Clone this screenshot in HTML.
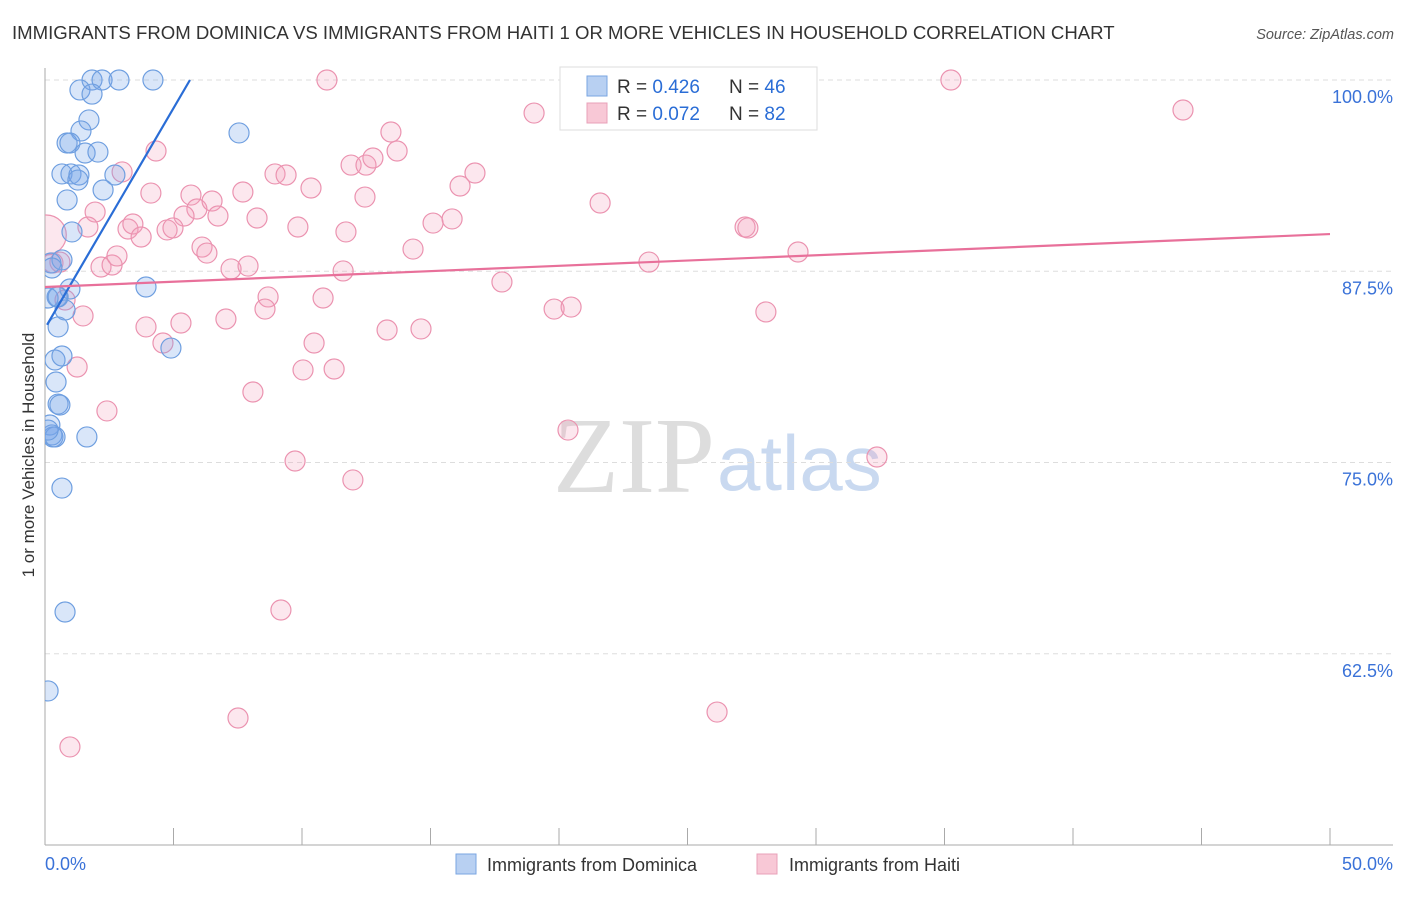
<!DOCTYPE html>
<html><head><meta charset="utf-8"><style>
body{margin:0;background:#fff;font-family:"Liberation Sans",sans-serif;}
</style></head><body>
<svg id="chart" width="1406" height="892" xmlns="http://www.w3.org/2000/svg" font-family="Liberation Sans, sans-serif">
<defs><clipPath id="plotclip"><rect x="45" y="40" width="1360" height="805"/></clipPath></defs>
<text x="12" y="39" font-size="18.6" fill="#333">IMMIGRANTS FROM DOMINICA VS IMMIGRANTS FROM HAITI 1 OR MORE VEHICLES IN HOUSEHOLD CORRELATION CHART</text>
<text x="1394" y="39" font-size="14.5" fill="#555" font-style="italic" text-anchor="end">Source: ZipAtlas.com</text>
<text x="553" y="492" font-size="108" font-family="Liberation Serif, serif" fill="#ddd">ZIP</text>
<text x="717" y="490" font-size="78" fill="#c9d9f0">atlas</text>
<text transform="translate(34,455) rotate(-90)" font-size="17" fill="#333" text-anchor="middle">1 or more Vehicles in Household</text>
<g id="grid"></g><g id="axes"></g><g id="marks" clip-path="url(#plotclip)"></g>
<g>
<rect x="560" y="67" width="257" height="63" fill="#fff" stroke="#ddd"/>
<rect x="587" y="76" width="20" height="20" fill="#b8d0f2" stroke="#7aa6e2"/>
<text x="617" y="93" font-size="19" fill="#333">R = <tspan fill="#2a6dd6">0.426</tspan></text>
<text x="729" y="93" font-size="19" fill="#333">N = <tspan fill="#2a6dd6">46</tspan></text>
<rect x="587" y="103" width="20" height="20" fill="#f8c8d6" stroke="#e8a0b8"/>
<text x="617" y="120" font-size="19" fill="#333">R = <tspan fill="#2a6dd6">0.072</tspan></text>
<text x="729" y="120" font-size="19" fill="#333">N = <tspan fill="#2a6dd6">82</tspan></text>
</g>
<g>
<rect x="456" y="854" width="20" height="20" fill="#b8d0f2" stroke="#7aa6e2"/>
<text x="487" y="871" font-size="18" fill="#333">Immigrants from Dominica</text>
<rect x="757" y="854" width="20" height="20" fill="#f8c8d6" stroke="#e8a0b8"/>
<text x="789" y="871" font-size="18" fill="#333">Immigrants from Haiti</text>
</g>
</svg>
<script>
const yTicks=[100,87.5,75,62.5];
const yTickLabels=["100.0%","87.5%","75.0%","62.5%"];
const xLabels=["0.0%","50.0%"];
const domX=[0,50], domY=[50,100];
const blueX=[1.83,2.22,2.88,4.20,1.36,1.83,1.71,1.40,0.86,0.97,1.56,2.06,7.55,0.66,1.01,1.32,1.28,2.72,2.26,0.86,1.05,0.23,0.66,0.27,3.93,0.97,0.47,0.12,0.78,0.51,4.90,0.39,0.66,0.43,0.51,0.58,0.19,0.27,0.31,1.63,0.66,0.78,0.12,0.39,0.12,0.51];
const blueY=[100,100,100,100,99.35,99.08,97.39,96.67,95.88,95.88,95.23,95.29,96.54,93.86,93.86,93.79,93.46,93.79,92.81,92.16,90.07,88.04,88.24,87.71,86.47,86.34,85.82,85.75,84.97,83.86,82.48,81.70,81.96,80.26,78.82,78.76,77.45,76.80,76.67,76.67,73.33,65.23,60.07,76.67,77.12,85.82];
const pinkX=[0.05,4.32,3.00,4.12,1.95,1.67,3.23,3.42,3.74,5.68,5.91,5.41,6.50,6.73,4.75,4.98,7.70,8.25,6.11,6.30,7.24,7.90,2.18,2.61,2.80,0.31,0.58,0.78,1.48,3.93,5.29,4.59,7.04,8.68,8.56,1.25,8.09,2.41,8.95,9.38,10.97,19.03,13.46,11.91,12.49,12.76,13.70,16.73,16.15,10.35,12.45,9.84,11.71,15.10,15.84,14.32,11.60,17.78,19.81,20.47,21.60,23.50,27.24,27.35,29.30,28.05,13.31,14.63,10.47,10.82,10.04,11.25,9.73,11.98,20.35,32.37,9.18,7.51,26.15,0.97,35.25,44.28];
const pinkY=[89.87,95.36,93.99,92.61,91.37,90.39,90.26,90.59,89.74,92.48,91.57,91.11,92.09,91.11,90.20,90.33,92.68,90.98,89.08,88.69,87.65,87.84,87.78,87.91,88.50,88.04,88.10,85.62,84.58,83.86,84.12,82.81,84.38,85.82,85.03,81.24,79.61,78.37,93.86,93.79,100,97.84,96.60,94.44,94.44,94.90,95.36,93.92,93.07,92.94,92.35,90.39,90.07,90.65,90.92,88.95,87.52,86.80,85.03,85.16,91.96,88.10,90.39,90.33,88.76,84.84,83.66,83.73,82.81,85.75,81.05,81.11,75.10,73.86,77.12,75.36,65.36,58.30,58.69,56.41,100,98.04];
const pinkWeight=[4];
const blueTrend=[[0.08,84.0],[5.64,100]];
const pinkTrend=[[0,86.47],[50,89.93]];
const X0=45,X1=1330,Y0=845,Y1=80;
const sx=v=>X0+(v-domX[0])/(domX[1]-domX[0])*(X1-X0);
const sy=v=>Y0-(v-domY[0])/(domY[1]-domY[0])*(Y0-Y1);
const NS="http://www.w3.org/2000/svg";
function mk(parent,tag,attrs){const e=document.createElementNS(NS,tag);for(const k in attrs)e.setAttribute(k,attrs[k]);document.getElementById(parent).appendChild(e);return e;}
yTicks.forEach((t,i)=>{
 const l=mk('grid','line',{x1:X0,x2:1393,y1:sy(t),y2:sy(t),stroke:'#ddd','stroke-dasharray':'5,4'});
 
 
 const tx=mk('grid','text',{x:1393,y:sy(t)+23,'font-size':18,fill:'#3a72d8','text-anchor':'end'});
 tx.textContent=yTickLabels[i];
 
 
});
const ax=mk('axes','line',{x1:X0,x2:X0,y1:68,y2:Y0,stroke:'#aaa'});


const bx=mk('axes','line',{x1:X0,x2:1393,y1:Y0,y2:Y0,stroke:'#aaa'});


for(let i=0;i<=10;i++){const v=domX[0]+i*5;const t=mk('axes','line',{x1:sx(v),x2:sx(v),y1:828,y2:Y0,stroke:'#aaa'});
 
 }
[[domX[0],'start',45],[domX[1],'end',1393]].forEach(([v,a,px],i)=>{const t=mk('axes','text',{x:px,y:870,'font-size':18,fill:'#3a72d8','text-anchor':a});t.textContent=xLabels[i];
 
 });
pinkX.forEach((x,i)=>{const r=10*(pinkWeight[i]?Math.sqrt(pinkWeight[i]):1);const c=mk('marks','circle',{cx:sx(x),cy:sy(pinkY[i]),r:r,fill:'rgba(244,160,188,0.25)',stroke:'#eb93b0','stroke-width':1.2});
 
 });
blueX.forEach((x,i)=>{const c=mk('marks','circle',{cx:sx(x),cy:sy(blueY[i]),r:10,fill:'rgba(120,165,235,0.28)',stroke:'#6f9fe0','stroke-width':1.2});
 
 });
const bl=mk('marks','line',{x1:sx(blueTrend[0][0]),y1:sy(blueTrend[0][1]),x2:sx(blueTrend[1][0]),y2:sy(blueTrend[1][1]),stroke:'#2a6dd6','stroke-width':2.2});


const pl=mk('marks','line',{x1:sx(pinkTrend[0][0]),y1:sy(pinkTrend[0][1]),x2:sx(pinkTrend[1][0]),y2:sy(pinkTrend[1][1]),stroke:'#e8709a','stroke-width':2.2});


</script>
</body></html>
